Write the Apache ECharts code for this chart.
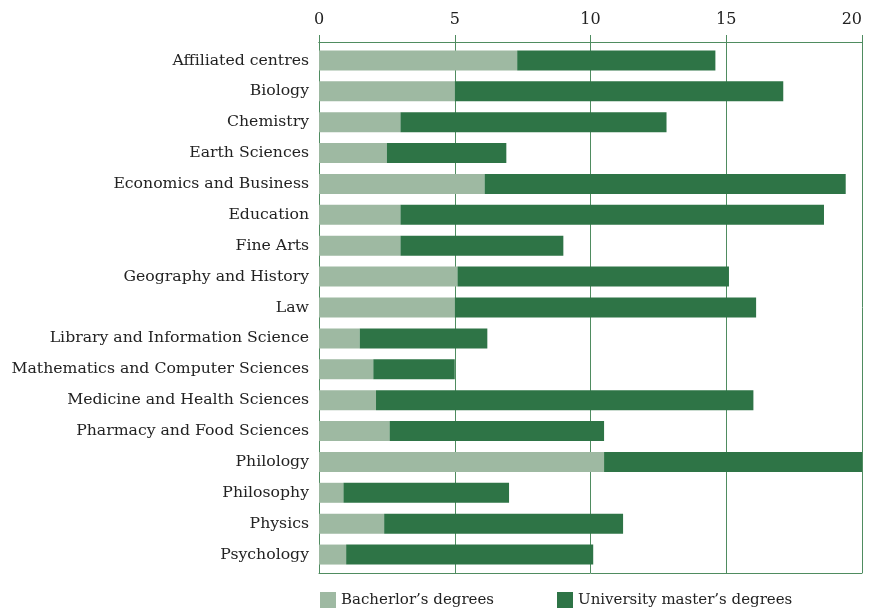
<!DOCTYPE html>
<html>
<head>
<meta charset="utf-8">
<script src="https://cdn.jsdelivr.net/npm/echarts@6/dist/echarts.min.js"></script>
<style>
  html, body { margin: 0; padding: 0; background: #fff; }
  #chart { width: 870px; height: 608px; }
</style>
</head>
<body>
<div id="chart"></div>
<script>
// faculties, top to bottom
const faculties = [
  'Affiliated centres', 'Biology', 'Chemistry', 'Earth Sciences',
  'Economics and Business', 'Education', 'Fine Arts', 'Geography and History',
  'Law', 'Library and Information Science', 'Mathematics and Computer Sciences',
  'Medicine and Health Sciences', 'Pharmacy and Food Sciences', 'Philology',
  'Philosophy', 'Physics', 'Psychology'
]
const bachelor = [7.3, 5.0, 3.0, 2.5, 6.1, 3.0, 3.0, 5.1, 5.0, 1.5, 2.0, 2.1, 2.6, 10.5, 0.9, 2.4, 1.0]
const master = [7.3, 12.1, 9.8, 4.4, 13.3, 15.6, 6.0, 10.0, 11.1, 4.7, 3.0, 13.9, 7.9, 9.6, 6.1, 8.8, 9.1]
const xTicks = [0, 5, 10, 15, 20]

const LIGHT = '#9eb9a2'
const DARK = '#2e7446'
const LINE = '#4f8c60'
const FONT = 'DejaVu Serif'
const TEXT = '#222'

const chart = echarts.init(document.getElementById('chart'), null, { renderer: 'canvas' })

// the frame sits a few px outside the band area, so the frame lines are axes with an offset
function frameAxis (pos, showLabels, tickLen, inside) {
  return {
    type: 'value',
    position: pos,
    offset: 3,
    min: xTicks[0],
    max: xTicks[xTicks.length - 1],
    interval: 5,
    axisLine: { show: true, lineStyle: { color: LINE } },
    axisTick: { show: true, inside: inside, length: tickLen, lineStyle: { color: LINE } },
    axisLabel: {
      show: showLabels,
      fontFamily: FONT,
      fontSize: 16,
      color: TEXT,
      margin: 14,
      alignMaxLabel: 'right'
    },
    splitLine: { show: false }
  }
}

const mainX = frameAxis('top', true, 7, false)
mainX.splitLine = { show: true, lineStyle: { color: LINE, width: 1 } }

chart.setOption({
  animation: false,
  textStyle: { fontFamily: FONT, color: TEXT },
  grid: {
    left: 319,
    right: 8,
    top: 45,
    bottom: 38,
    outerBoundsMode: 'none'
  },
  legend: [
    {
      data: ['Bacherlor’s degrees'],
      left: 320,
      top: 592,
      padding: 0,
      itemWidth: 16,
      itemHeight: 16,
      itemGap: 5,
      icon: 'rect',
      textStyle: { fontFamily: FONT, fontSize: 15, color: TEXT }
    },
    {
      data: ['University master’s degrees'],
      left: 557,
      top: 592,
      padding: 0,
      itemWidth: 16,
      itemHeight: 16,
      icon: 'rect',
      textStyle: { fontFamily: FONT, fontSize: 15, color: TEXT }
    }
  ],
  xAxis: [
    mainX,
    frameAxis('top', false, 3, true),
    frameAxis('bottom', false, 3, true)
  ],
  yAxis: {
    type: 'category',
    data: faculties,
    inverse: true,
    axisLine: { show: true, lineStyle: { color: LINE } },
    axisTick: { show: false },
    axisLabel: { fontFamily: FONT, fontSize: 15.7, color: TEXT, margin: 10 }
  },
  series: [
    {
      name: 'Bacherlor’s degrees',
      type: 'bar',
      stack: 'total',
      barWidth: 20,
      itemStyle: { color: LIGHT },
      data: bachelor
    },
    {
      name: 'University master’s degrees',
      type: 'bar',
      stack: 'total',
      barWidth: 20,
      itemStyle: { color: DARK },
      data: master
    }
  ]
})
</script>
</body>
</html>
